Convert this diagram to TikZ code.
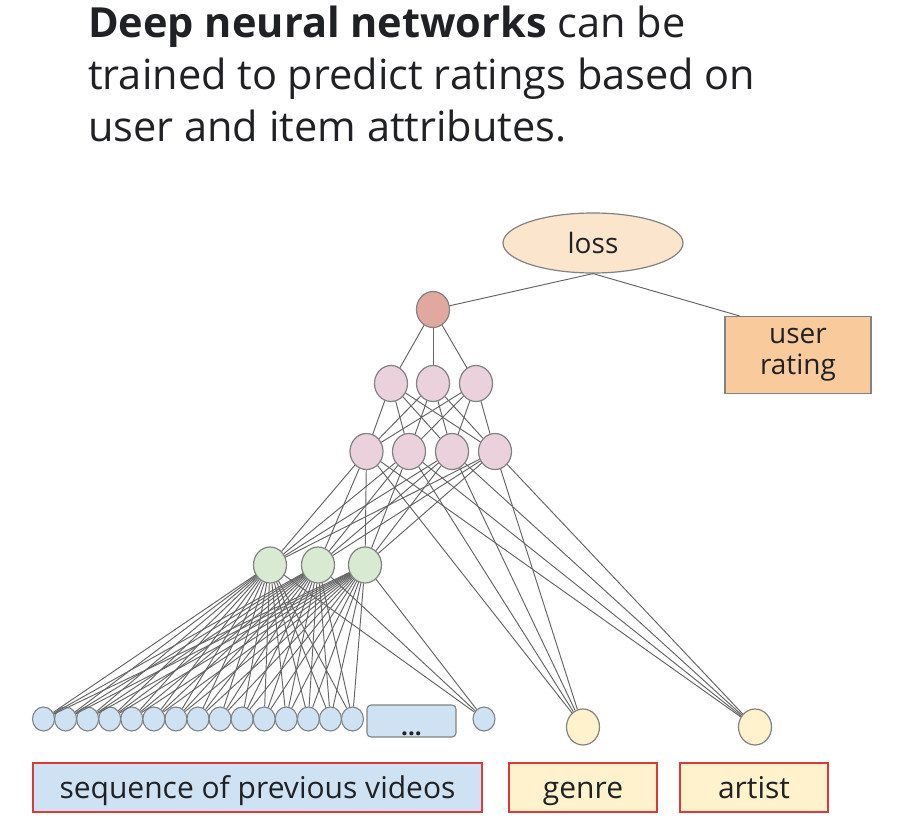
\documentclass[tikz,border=0pt]{standalone}
\usepackage{fontspec}
\setmainfont{Open Sans}
\usetikzlibrary{shapes.geometric}
\definecolor{ink}{RGB}{32,33,36}
\definecolor{bordergray}{RGB}{130,130,130}
\definecolor{linegray}{RGB}{100,100,100}
\definecolor{lossfill}{RGB}{252,229,205}
\definecolor{ratefill}{RGB}{249,203,156}
\definecolor{topfill}{RGB}{224,168,158}
\definecolor{pinkfill}{RGB}{234,209,220}
\definecolor{greenfill}{RGB}{217,234,211}
\definecolor{bluefill}{RGB}{207,226,243}
\definecolor{yellowfill}{RGB}{255,242,204}
\definecolor{redline}{RGB}{220,58,58}
\begin{document}
\begin{tikzpicture}[x=1pt,y=-1pt,
  nrn/.style={ellipse, draw=bordergray, line width=1.2pt, inner sep=0pt, minimum width=33pt, minimum height=36pt},
  small/.style={ellipse, draw=bordergray, line width=1.1pt, fill=bluefill, inner sep=0pt, minimum width=22pt, minimum height=24pt},
  wire/.style={draw=linegray, line width=0.95pt},
  labelbox/.style={rectangle, draw=redline, line width=2.8pt, inner sep=0pt, minimum height=49pt, text height=22pt, text depth=1pt, font=\fontsize{30}{36}\selectfont, text=ink},
  titleline/.style={anchor=base west, inner sep=0pt, font=\fontsize{41.5}{52}\selectfont, text=ink}
]
\path[use as bounding box, fill=white] (0,0) rectangle (903,819);

% title
\node[titleline] (t1) at (88,37) {\textbf{Deep neural networks} can be};
\node[titleline] (t2) at (88,89) {trained to predict ratings based on};
\node[titleline] (t3) at (88,141) {user and item attributes.};

% loss and rating
\node[ellipse, draw=bordergray, line width=1.2pt, fill=lossfill, minimum width=180pt, minimum height=60pt, inner sep=0pt, font=\fontsize{28}{32}\selectfont, text=ink] (loss) at (593,243) {loss};
\node[rectangle, draw=bordergray, line width=1.2pt, fill=ratefill, minimum width=146pt, minimum height=77pt, inner sep=0pt, align=center, font=\fontsize{28}{31}\selectfont, text=ink] (rating) at (798,355) {user\\rating};
\coordinate (ratetop) at ([xshift=15pt]rating.north west);

% network nodes
\node[nrn, fill=topfill] (top) at (433,309.5) {};
\node[nrn, fill=pinkfill] (p1) at (391,383.5) {};
\node[nrn, fill=pinkfill] (p2) at (433,383.5) {};
\node[nrn, fill=pinkfill] (p3) at (476,383.5) {};
\node[nrn, fill=pinkfill] (q1) at (366.5,451.5) {};
\node[nrn, fill=pinkfill] (q2) at (409,451.5) {};
\node[nrn, fill=pinkfill] (q3) at (452,451.5) {};
\node[nrn, fill=pinkfill] (q4) at (495,451.5) {};
\node[nrn, fill=greenfill] (g1) at (270,565) {};
\node[nrn, fill=greenfill] (g2) at (318,565) {};
\node[nrn, fill=greenfill] (g3) at (365,565) {};
\foreach \i in {0,...,14} {
  \node[small] (b\i) at ({43.5+22.07*\i},719) {};
}
\node[rectangle, rounded corners=4pt, draw=bordergray, line width=1.1pt, fill=bluefill, minimum width=89pt, minimum height=32pt, inner sep=0pt] (dots) at (411.5,721) {};
\node[anchor=base, inner sep=0pt, font=\bfseries\fontsize{24}{24}\selectfont, text=ink] (dotstext) at (411.5,735) {...};
\node[small] (bx) at (484,719) {};
\node[nrn, fill=yellowfill] (genre) at (583,727) {};
\node[nrn, fill=yellowfill] (artist) at (755,727) {};

% labels
\node[labelbox, fill=bluefill, minimum width=449pt] (lseq) at (257.5,787.5) {sequence of previous videos};
\node[labelbox, fill=yellowfill, minimum width=148pt] (lgenre) at (583,787.5) {genre};
\node[labelbox, fill=yellowfill, minimum width=148pt] (lartist) at (754,787.5) {artist};

% connectors
\draw[wire] (loss.south) -- (top);
\draw[wire] (loss.south) -- (ratetop);
\foreach \p in {p1,p2,p3} \draw[wire] (top) -- (\p);
\foreach \p in {p1,p2,p3} \foreach \q in {q1,q2,q3,q4} \draw[wire] (\p) -- (\q);
\foreach \q in {q1,q2,q3,q4} {
  \foreach \g in {g1,g2,g3} \draw[wire] (\q) -- (\g);
  \draw[wire] (\q) -- (genre);
  \draw[wire] (\q) -- (artist);
}
\foreach \i in {0,...,14} \foreach \g in {g1,g2,g3} \draw[wire] (b\i) -- (\g);
\foreach \g in {g1,g2,g3} \draw[wire] (bx) -- (\g);
\end{tikzpicture}
\end{document}
